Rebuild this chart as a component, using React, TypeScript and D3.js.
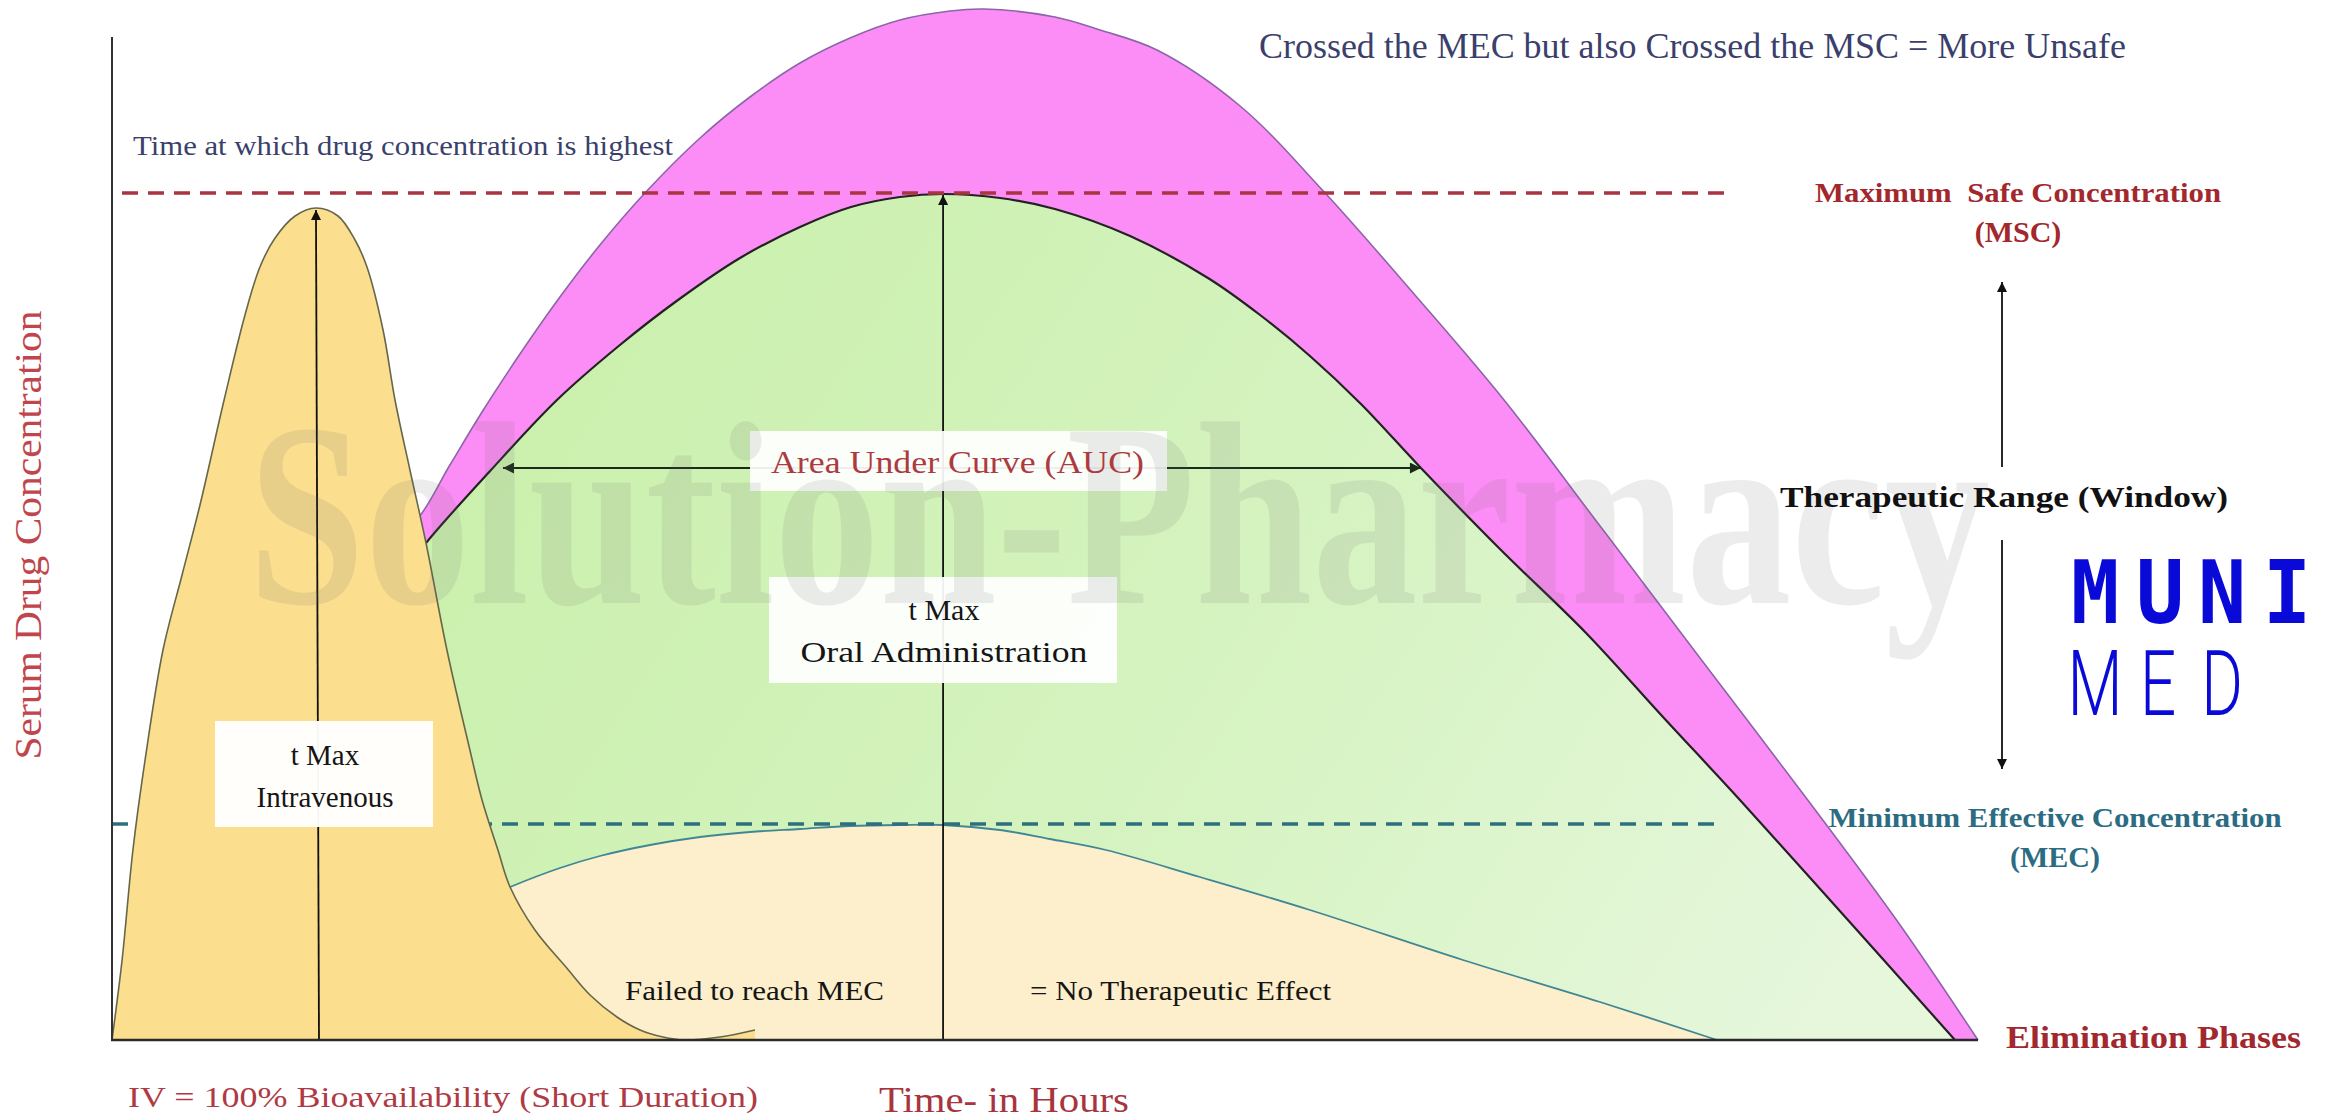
import React from 'react';
import * as d3 from 'd3';

const W = 2333;
const H = 1119;

// ---- data (time units 0..100, concentration units) ----
type P = [number, number];

const ivCurve: P[] = [
  [0, 0], [0.54, 8], [1.12, 19], [1.77, 28], [2.73, 39], [3.75, 46.5], [4.71, 53.5],
  [6.0, 64], [7.12, 72.5], [7.92, 77.3], [8.73, 80.2], [9.8, 82.4], [10.92, 83.2],
  [12.1, 82.4], [13.01, 80], [13.65, 77.3], [14.51, 71], [15.15, 64], [15.95, 57],
  [16.81, 49.7], [17.93, 39], [19.16, 29], [19.81, 24], [20.66, 19], [21.31, 15.3],
  [22.64, 11], [24.3, 7.3], [25.59, 4.5], [27.03, 2.3], [28.27, 1], [29.5, 0.3],
  [30.62, 0], [32.55, 0.3], [34.42, 1.0],
];

const oralCurve: P[] = [
  [15.15, 45.5], [16.81, 49.7], [20.24, 56.9], [23.82, 64], [27.19, 69.5], [30.3, 74],
  [33.62, 78.2], [36.83, 81.3], [39.56, 83.3], [42.18, 84.3], [44.49, 84.6], [47.54, 84.2],
  [50.48, 83.1], [54.5, 80.4], [58.67, 76.2], [61.46, 72.5], [64.13, 68.4], [66.86, 63.6],
  [70.07, 57.2], [74.3, 49.1], [78.91, 40.7], [82.98, 32.4], [87.15, 24], [92.93, 12],
  [98.66, 0],
];

const unsafeCurve: P[] = [
  [15.42, 51.0], [16.38, 52.2], [18.09, 57.5], [19.81, 62.8], [21.84, 68.6], [23.98, 74.3],
  [26.12, 79.5], [28.53, 84.7], [31.48, 90.2], [34.15, 94.3], [36.83, 97.7], [39.51, 100.2],
  [42.18, 102.0], [44.86, 102.9], [46.68, 103.1], [50.48, 102.3], [52.89, 101.0], [55.94, 99.0],
  [60.39, 93.4], [64.94, 84.7], [69.75, 74.5], [74.52, 64], [79.66, 51.4], [85.01, 38.2],
  [90.9, 23.7], [95.72, 11.5], [99.89, 0],
];

const failedCurve: P[] = [
  [19.16, 13.5], [21.31, 15.3], [23.98, 17.2], [26.12, 18.4], [28.8, 19.5], [31.48, 20.3],
  [34.15, 20.8], [36.83, 21.1], [39.51, 21.4], [42.18, 21.5], [44.49, 21.5], [47.54, 21],
  [50.21, 20.1], [53.21, 19], [58.24, 16.3], [64.13, 13], [72.32, 8], [79.66, 3.8], [85.92, 0],
];

const MSC_LEVEL = 84.7;
const MEC_LEVEL = 21.6;
const MSC_END = 86.8;
const MEC_END = 86.1;
const AUC_LEVEL = 57.2;
const AUC_FROM = 20.93;
const AUC_TO = 70.07;

const x = d3.scaleLinear().domain([0, 100]).range([112, 1980]);
const y = d3.scaleLinear().domain([0, 104]).range([1040, 0]);

const curve = d3.curveCatmullRom.alpha(0.5);
const area = d3.area<P>().x(d => x(d[0])).y0(y(0)).y1(d => y(d[1])).curve(curve);
const line = d3.line<P>().x(d => x(d[0])).y(d => y(d[1])).curve(curve);

const serif = "'Liberation Serif', Tinos, 'Times New Roman', Times, serif";

export default function App() {
  const ivPeak = d3.greatest(ivCurve, d => d[1]) as P;
  const oralPeak = d3.greatest(oralCurve, d => d[1]) as P;

  const logoTop = ['M', 'U', 'N', 'I'];
  const logoTopX = [2095, 2160, 2222, 2287];
  const logoBot = ['M', 'E', 'D'];
  const logoBotX = [2095, 2158, 2222];

  const T = (props: any) => <text {...props} style={{ fontFamily: serif, ...(props.style || {}) }} />;

  return (
    <div style={{ position: 'absolute', left: 0, top: 0, width: W, height: H, background: '#fff' }}>
      <svg width={W} height={H} viewBox={`0 0 ${W} ${H}`} style={{ display: 'block' }}>
        <defs>
          <linearGradient id="gGreen" gradientUnits="userSpaceOnUse" x1="500" y1="200" x2="1800" y2="1040">
            <stop offset="0" stopColor="#C9F0AA" />
            <stop offset="0.55" stopColor="#D5F3C0" />
            <stop offset="1" stopColor="#E6F7DC" />
          </linearGradient>
          <marker id="arrow" viewBox="0 0 10 10" refX="10" refY="5" markerWidth="13" markerHeight="10"
            markerUnits="userSpaceOnUse" orient="auto-start-reverse">
            <path d="M0,0 L10,5 L0,10 z" fill="#111" />
          </marker>
          <marker id="arrowG" viewBox="0 0 10 10" refX="10" refY="5" markerWidth="14" markerHeight="11"
            markerUnits="userSpaceOnUse" orient="auto-start-reverse">
            <path d="M0,0 L10,5 L0,10 z" fill="#1b2b1b" />
          </marker>
        </defs>

        {/* unsafe (crossed MSC) curve */}
        <path d={area(unsafeCurve) || ''} fill="#FD8DF6" />
        <path d={line(unsafeCurve) || ''} fill="none" stroke="#8a66a8" strokeWidth={1.6} />

        {/* oral therapeutic curve */}
        <path d={area(oralCurve) || ''} fill="url(#gGreen)" />
        <path d={line(oralCurve) || ''} fill="none" stroke="#222" strokeWidth={2.2} />

        {/* failed to reach MEC */}
        <path d={area(failedCurve) || ''} fill="#FDEFCC" />
        <path d={line(failedCurve) || ''} fill="none" stroke="#3f8795" strokeWidth={1.8} />

        {/* MEC dashed */}
        <line x1={x(0)} x2={x(MEC_END)} y1={y(MEC_LEVEL)} y2={y(MEC_LEVEL)}
          stroke="#2e6f7e" strokeWidth={3.5} strokeDasharray="16 10" />

        {/* IV curve */}
        <path d={area(ivCurve) || ''} fill="#FBDE8E" />
        <path d={line(ivCurve) || ''} fill="none" stroke="#66674a" strokeWidth={1.6} />

        {/* MSC dashed */}
        <line x1={x(0) + 10} x2={x(MSC_END)} y1={y(MSC_LEVEL)} y2={y(MSC_LEVEL)}
          stroke="#a8353f" strokeWidth={3.5} strokeDasharray="16 10" />

        {/* tmax arrows */}
        <line x1={x(ivPeak[0]) + 3} y1={y(0)} x2={x(ivPeak[0])} y2={y(ivPeak[1]) + 2}
          stroke="#111" strokeWidth={1.8} markerEnd="url(#arrow)" />
        <line x1={x(oralPeak[0])} y1={y(0)} x2={x(oralPeak[0])} y2={y(oralPeak[1]) + 1}
          stroke="#111" strokeWidth={1.8} markerEnd="url(#arrow)" />

        {/* AUC arrow */}
        <line x1={x(AUC_FROM)} x2={x(AUC_TO)} y1={y(AUC_LEVEL)} y2={y(AUC_LEVEL)}
          stroke="#1b2b1b" strokeWidth={2.2} markerStart="url(#arrowG)" markerEnd="url(#arrowG)" />

        {/* axes */}
        <line x1={112} x2={112} y1={37} y2={1041} stroke="#333" strokeWidth={2} />
        <line x1={111} x2={x(100) - 2} y1={1040} y2={1040} stroke="#2a2a2a" strokeWidth={2.6} />

        {/* boxes */}
        <rect x={750} y={431} width={417} height={60} fill="#fff" opacity={0.92} />
        <rect x={769} y={577} width={348} height={106} fill="#fff" opacity={0.93} />
        <rect x={215} y={721} width={218} height={106} fill="#fff" opacity={0.96} />

        {/* therapeutic range arrow */}
        <line x1={2002} x2={2002} y1={467} y2={282} stroke="#111" strokeWidth={1.8} markerEnd="url(#arrow)" />
        <line x1={2002} x2={2002} y1={540} y2={769} stroke="#111" strokeWidth={1.8} markerEnd="url(#arrow)" />

        {/* watermark */}
        <T x={248} y={603} fontWeight="bold" fontSize={262}
          textLength={1742} lengthAdjust="spacingAndGlyphs" fill="#6a6a6a" opacity={0.12}>
          Solution-Pharmacy
        </T>

        {/* texts */}
        <T x={133} y={155} fontSize={28} fill="#3b3f6b" textLength={540} lengthAdjust="spacingAndGlyphs">
          Time at which drug concentration is highest
        </T>
        <T x={1259} y={58} fontSize={36} fill="#3b3f6b" textLength={867} lengthAdjust="spacingAndGlyphs">
          Crossed the MEC but also Crossed the MSC = More Unsafe
        </T>

        <T x={2018} y={202} fontSize={28} fontWeight="bold" fill="#a3282e" textAnchor="middle"
          textLength={406} lengthAdjust="spacingAndGlyphs" style={{ whiteSpace: 'pre' }}>
          {'Maximum  Safe Concentration'}
        </T>
        <T x={2018} y={242} fontSize={30} fontWeight="bold" fill="#a3282e" textAnchor="middle">(MSC)</T>

        <T x={2004} y={507} fontSize={30} fontWeight="bold" fill="#111" textAnchor="middle"
          textLength={448} lengthAdjust="spacingAndGlyphs">Therapeutic Range (Window)</T>

        <T x={2055} y={827} fontSize={28} fontWeight="bold" fill="#2b6c82" textAnchor="middle"
          textLength={453} lengthAdjust="spacingAndGlyphs">Minimum Effective Concentration</T>
        <T x={2055} y={867} fontSize={30} fontWeight="bold" fill="#2b6c82" textAnchor="middle">(MEC)</T>

        <T x={2006} y={1048} fontSize={32} fontWeight="bold" fill="#a3282e"
          textLength={295} lengthAdjust="spacingAndGlyphs">Elimination Phases</T>

        <T x={771} y={473} fontSize={31} fill="#ad3a40" textLength={373} lengthAdjust="spacingAndGlyphs">
          Area Under Curve (AUC)
        </T>

        <T x={944} y={620} fontSize={30} fill="#151515" textAnchor="middle">t Max</T>
        <T x={944} y={662} fontSize={30} fill="#151515" textAnchor="middle"
          textLength={287} lengthAdjust="spacingAndGlyphs">Oral Administration</T>

        <T x={325} y={765} fontSize={29} fill="#151515" textAnchor="middle">t Max</T>
        <T x={325} y={807} fontSize={29} fill="#151515" textAnchor="middle">Intravenous</T>

        <T x={625} y={1000} fontSize={28} fill="#151515" textLength={259} lengthAdjust="spacingAndGlyphs">
          Failed to reach MEC
        </T>
        <T x={1030} y={1000} fontSize={28} fill="#151515" textLength={301} lengthAdjust="spacingAndGlyphs">
          = No Therapeutic Effect
        </T>

        <T x={128} y={1107} fontSize={30} fill="#b03a44" textLength={630} lengthAdjust="spacingAndGlyphs">
          IV = 100% Bioavailability (Short Duration)
        </T>
        <T x={879} y={1112} fontSize={35} fill="#a8343e" textLength={250} lengthAdjust="spacingAndGlyphs">
          Time- in Hours
        </T>

        <T transform="translate(41,535) rotate(-90)" fontSize={38} fill="#c0454d" textAnchor="middle"
          textLength={449} lengthAdjust="spacingAndGlyphs">Serum Drug Concentration</T>

        {/* logo */}
        <g fill="#0a0ad8">
          {logoTop.map((c, i) => (
            <text key={'t' + i} transform={`translate(${logoTopX[i]},623) scale(0.92,1)`}
              style={{ fontFamily: "'DejaVu Sans Mono', monospace" }} fontWeight="bold" fontSize={87} textAnchor="middle">{c}</text>
          ))}
          {logoBot.map((c, i) => (
            <text key={'b' + i} transform={`translate(${logoBotX[i]},715) scale(0.7,1)`}
              style={{ fontFamily: 'Roboto, sans-serif' }} fontWeight={300} fontSize={91} textAnchor="middle">{c}</text>
          ))}
        </g>
      </svg>
    </div>
  );
}
